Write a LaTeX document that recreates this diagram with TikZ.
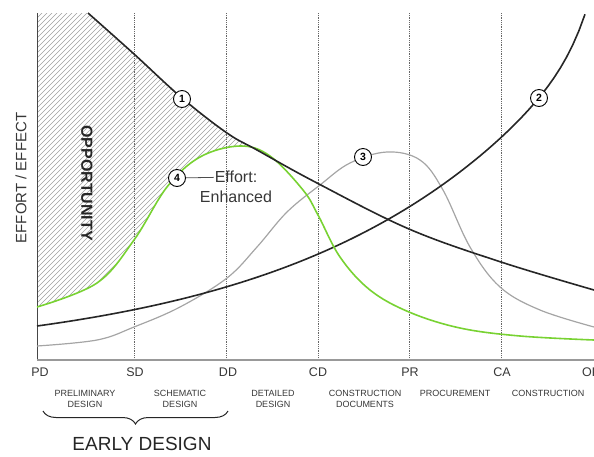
\documentclass[tikz,border=0pt]{standalone}
\usepackage{fontspec}
\setmainfont{Liberation Sans}
\usetikzlibrary{decorations.pathreplacing}

\definecolor{effgreen}{RGB}{120,210,50}
\definecolor{effgray}{RGB}{165,165,165}
\definecolor{txtgray}{RGB}{55,55,55}

% the four curves, in pixel units
\newcommand\curveOne{plot[smooth,tension=.6] coordinates {(88,13) (134,54) (182,98) (227,133) (257,150) (317,183) (409,229) (501,262) (594,290)}}
\newcommand\curveTwo{plot[domain=37:585,samples=90] (\x,{360-34*exp(0.00405*(\x-37))-34*exp(0.05*(\x-585))})}
\newcommand\curveThree{plot[smooth,tension=.6] coordinates {(37,346) (97,340) (134,327) (180,307) (227,278) (257,247) (287,212) (320,185) (350,163) (387,152) (420,160) (443,190) (470,247) (500,287) (540,310) (594,327)}}
\newcommand\curveFour{plot[smooth,tension=.6] coordinates {(37,307) (97,283) (134,240) (167,187) (200,157) (240,146) (270,156) (303,190) (318,215) (340,257) (370,290) (409,312) (460,328) (520,336) (594,340)}}

\begin{document}
\begin{tikzpicture}[x=1pt,y=1pt,yscale=-1,
  hatchline/.style={gray!75,line width=0.4pt},
  phaseline/.style={densely dotted,line width=0.8pt,gray!80!black},
  marker/.style={circle,draw,fill=white,line width=0.9pt,inner sep=0pt,minimum size=17pt,font=\bfseries\fontsize{10.5}{10.5}\selectfont},
  ticklabel/.style={text=txtgray,font=\fontsize{12.5}{14}\selectfont},
  phaselabel/.style={anchor=north,align=center,text=txtgray,font=\fontsize{9}{11}\selectfont},
  efftext/.style={text=txtgray,inner sep=1pt,font=\fontsize{16}{18}\selectfont}]
\useasboundingbox (0,0) rectangle (594,456);

%Hatch: opportunity
\begin{scope}
\clip \curveOne -- (594,460) -- (37,460) -- (37,13) -- cycle;
\clip \curveFour -- (594,0) -- (37,0) -- cycle;
\clip (37,0) rectangle (258,460);
\foreach \i in {-400,-395,...,300}
  \draw[hatchline] (\i,400) -- (\i+400,0);
\end{scope}

%Phase lines
\foreach \x in {134,226,318,409,501}
  \draw[phaseline] (\x,13) -- (\x,360);

%Axes
\draw[gray!55!black,line width=1pt] (37,13) -- (37,360);
\draw[gray!80,line width=1.2pt] (37,360) -- (594,360);

%Curves
\draw[effgray,line width=1.2pt] \curveThree;
\draw[black!85,line width=1.6pt] \curveTwo;
\draw[effgreen,line width=1.6pt] \curveFour;
\draw[black!85,line width=1.6pt] \curveOne;

%Markers
\node[marker] (c1) at (182,99) {1};
\node[marker] (c2) at (539,98) {2};
\node[marker] (c3) at (363,157) {3};
\node[marker] (c4) at (177,178) {4};

% Text Node
\node[efftext] (eff1) at (236,177) {Effort:};
\node[efftext] (eff2) at (236,197) {Enhanced};
\draw[gray!60!black,line width=0.8pt] (c4) -- (eff1);

% Text Node
\node[rotate=90,text=txtgray,font=\fontsize{15}{15}\selectfont] (yaxis) at (21,178) {EFFORT / EFFECT};
\node[rotate=-90,text=black!85,font=\bfseries\fontsize{16}{16}\selectfont] (opp) at (87,183) {OPPORTUNITY};

% Text Node
\node[ticklabel] (tPD) at (40,372) {PD};
\node[ticklabel] (tSD) at (135,372) {SD};
\node[ticklabel] (tDD) at (228,372) {DD};
\node[ticklabel] (tCD) at (318,372) {CD};
\node[ticklabel] (tPR) at (410,372) {PR};
\node[ticklabel] (tCA) at (502,372) {CA};
\node[ticklabel,anchor=west,inner sep=0pt] (tOP) at (582,372) {OP};

% Text Node
\node[phaselabel] (pPD) at (85,387) {PRELIMINARY\\DESIGN};
\node[phaselabel] (pSD) at (180,387) {SCHEMATIC\\DESIGN};
\node[phaselabel] (pDD) at (273,387) {DETAILED\\DESIGN};
\node[phaselabel] (pCD) at (365,387) {CONSTRUCTION\\DOCUMENTS};
\node[phaselabel] (pPR) at (455,387) {PROCUREMENT};
\node[phaselabel] (pCA) at (548,387) {CONSTRUCTION};

%Brace
\coordinate (bl) at (43,411);
\coordinate (br) at (228,411);
\draw[decorate,decoration={brace,mirror,amplitude=13pt},line width=1pt,black!85] (bl) -- (br);
\node[text=black!85,font=\fontsize{19}{19}\selectfont] (early) at (142,444) {EARLY DESIGN};

\end{tikzpicture}
\end{document}
